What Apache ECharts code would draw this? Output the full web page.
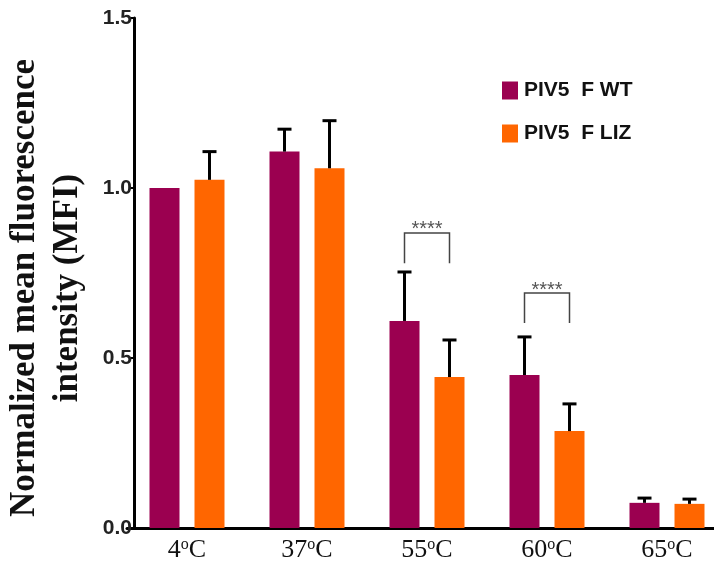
<!DOCTYPE html>
<html>
<head>
<meta charset="utf-8">
<script src="https://cdn.jsdelivr.net/npm/echarts@6/dist/echarts.min.js"></script>
<style>html,body{margin:0;padding:0;background:#fff;}#chart{width:714px;height:569px;}</style>
</head>
<body>
<div id="chart"></div>
<script>
// ---- data ----
var categories = ['4', '37', '55', '60', '65'];
var seriesNames = ['PIV5  F WT', 'PIV5  F LIZ'];
var wtValues = [1.0, 1.107, 0.609, 0.45, 0.074];
var wtErrTop = [1.0, 1.173, 0.753, 0.562, 0.088];
var lizValues = [1.024, 1.058, 0.444, 0.285, 0.071];
var lizErrTop = [1.107, 1.198, 0.553, 0.365, 0.085];
var bracketCats = [2, 3];
var bracketTop = [0.868, 0.691];
var bracketBottom = [0.779, 0.603];
var bracketLabels = ['****', '****'];

// ---- styling ----
var WT_COLOR = '#9B0050';
var LIZ_COLOR = '#FF6600';
var BAR_W = 30;
var GAP_PX = 15;
var OFF = (BAR_W + GAP_PX) / 2;

function errRender(sign) {
  return function (params, api) {
    var i = api.value(0), v = api.value(1), t = api.value(2);
    if (!(t > v)) return null;
    var p0 = api.coord([i, v]);
    var p1 = api.coord([i, t]);
    var x = p0[0] + sign * OFF;
    return {
      type: 'group',
      children: [
        { type: 'line', shape: { x1: x, y1: p0[1], x2: x, y2: p1[1] }, style: { stroke: '#000', lineWidth: 3 } },
        { type: 'line', shape: { x1: x - 7, y1: p1[1], x2: x + 7, y2: p1[1] }, style: { stroke: '#000', lineWidth: 3 } }
      ]
    };
  };
}

function bracketRender(params, api) {
  var i = api.value(0), top = api.value(1), bot = api.value(2);
  var pt = api.coord([i, top]);
  var pb = api.coord([i, bot]);
  var xl = pt[0] - OFF, xr = pt[0] + OFF;
  return {
    type: 'group',
    children: [
      { type: 'polyline', shape: { points: [[xl, pb[1]], [xl, pt[1]], [xr, pt[1]], [xr, pb[1]]] },
        style: { stroke: '#444', lineWidth: 1.5, fill: null } },
      { type: 'text', style: { text: bracketLabels[params.dataIndex], x: pt[0], y: pt[1] - 3,
        align: 'center', verticalAlign: 'middle', fill: '#555', font: '20px "Liberation Sans", Arial' } }
    ]
  };
}

var chart = echarts.init(document.getElementById('chart'), null, { renderer: 'canvas' });
var option = {
  animation: false,
  backgroundColor: '#fff',
  grid: { left: 127, width: 600, top: 18, bottom: 41, containLabel: false, outerBoundsMode: 'none' },
  legend: {
    orient: 'vertical', left: 497, top: 75, itemWidth: 16, itemHeight: 18, itemGap: 22,
    icon: 'rect', data: seriesNames,
    textStyle: { fontFamily: '"Liberation Sans", Arial', fontWeight: 'bold', fontSize: 21, color: '#111', padding: [0, 0, 0, 1] }
  },
  xAxis: {
    type: 'category', data: categories,
    axisLine: { lineStyle: { color: '#000', width: 3 } },
    axisTick: { alignWithLabel: true, length: 4, lineStyle: { color: '#000', width: 2 } },
    axisLabel: {
      margin: 9, interval: 0,
      formatter: function (v) { return '{n|' + v + '}{s|o}{n|C}'; },
      rich: {
        n: { fontFamily: '"Liberation Serif", "Times New Roman", serif', fontSize: 26, color: '#111', lineHeight: 27 },
        s: { fontFamily: '"Liberation Serif", "Times New Roman", serif', fontSize: 16, color: '#111', verticalAlign: 'top', lineHeight: 15 }
      }
    },
    splitLine: { show: false }
  },
  yAxis: {
    type: 'value', min: 0, max: 1.5, interval: 0.5, offset: -7,
    name: 'Normalized mean fluorescence\nintensity (MFI)',
    nameLocation: 'middle', nameRotate: 90, nameGap: 45,
    nameTextStyle: { fontFamily: '"Liberation Serif", "Times New Roman", serif', fontWeight: 'bold', fontSize: 35,
      color: '#111', lineHeight: 43, padding: [0, 30, 0, 0] },
    axisLine: { show: true, lineStyle: { color: '#000', width: 3 } },
    axisTick: { show: true, length: 5, lineStyle: { color: '#000', width: 2 } },
    axisLabel: { margin: 2, fontFamily: '"Liberation Sans", Arial', fontWeight: 'bold', fontSize: 21, color: '#222',
      formatter: function (v) { return v.toFixed(1); } },
    splitLine: { show: false }
  },
  series: [
    { name: seriesNames[0], type: 'bar', data: wtValues, barWidth: BAR_W, barGap: (GAP_PX / BAR_W * 100) + '%',
      itemStyle: { color: WT_COLOR }, z: 2 },
    { name: seriesNames[1], type: 'bar', data: lizValues, barWidth: BAR_W, barGap: (GAP_PX / BAR_W * 100) + '%',
      itemStyle: { color: LIZ_COLOR }, z: 2 },
    { type: 'custom', renderItem: errRender(-1), z: 3, silent: true,
      data: categories.map(function (c, i) { return [i, wtValues[i], wtErrTop[i]]; }), encode: { x: 0, y: [1, 2] } },
    { type: 'custom', renderItem: errRender(1), z: 3, silent: true,
      data: categories.map(function (c, i) { return [i, lizValues[i], lizErrTop[i]]; }), encode: { x: 0, y: [1, 2] } },
    { type: 'custom', renderItem: bracketRender, z: 4, silent: true,
      data: bracketCats.map(function (c, k) { return [c, bracketTop[k], bracketBottom[k]]; }), encode: { x: 0, y: [1, 2] } }
  ]
};
chart.setOption(option);
</script>
</body>
</html>
